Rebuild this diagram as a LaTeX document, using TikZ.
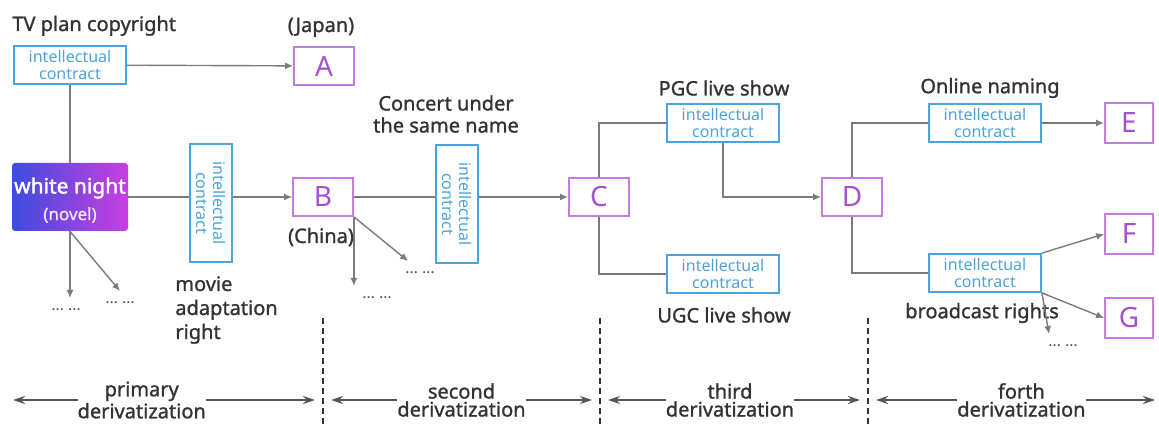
\documentclass[tikz,border=0pt]{standalone}
\usepackage{fontspec}
\setmainfont{Noto Sans}
\newfontfamily\midfont{Noto Sans}[FakeBold=1.2]
\newfontfamily\heavyfont{Noto Sans}[FakeBold=1.8]
\usepackage{xcolor}
\usetikzlibrary{arrows.meta,positioning}
\definecolor{ink}{HTML}{333333}
\definecolor{kblue}{HTML}{4BA3DA}
\definecolor{rpurple}{HTML}{C27BDE}
\definecolor{rletter}{HTML}{A451D1}
\definecolor{wiregray}{HTML}{7B7B7B}
\definecolor{spangray}{HTML}{555555}
\definecolor{nightL}{HTML}{3E4CDF}
\definecolor{nightR}{HTML}{C93FE0}

\begin{document}
\begin{tikzpicture}[x=0.5pt,y=-0.5pt,
    >={Latex[length=4pt,width=3.5pt]},
    wire/.style={draw=wiregray,line width=0.7pt},
    lbl/.style={text=ink,font=\midfont\fontsize{10}{11}\selectfont,align=center,inner sep=0pt},
    contract/.style={draw=kblue,line width=0.9pt,text=kblue,align=center,
      font=\fontsize{8}{8.5}\selectfont,minimum width=56pt,minimum height=19pt,inner sep=0pt},
    vcontract/.style={contract,rotate=-90,minimum width=59pt,minimum height=21pt},
    holder/.style={draw=rpurple,line width=0.9pt,text=rletter,
      font=\fontsize{14}{14}\selectfont,minimum width=30pt,minimum height=19pt,inner sep=0pt},
    narrow/.style={minimum width=24pt,minimum height=20pt},
    novel/.style={left color=nightL,right color=nightR,rounded corners=1.5pt,
      minimum width=58pt,minimum height=34pt,inner sep=0pt,text=white,align=center},
    dots/.style={text=spangray,font=\fontsize{8}{8}\selectfont,inner sep=0pt,inner ysep=5pt},
    span/.style={draw=spangray,line width=1pt,{Stealth[length=6pt,width=4pt]}-{Stealth[length=6pt,width=4pt]},
      shorten <=4pt,shorten >=4pt},
    spanlbl/.style={lbl,fill=white,font=\midfont\fontsize{10}{9}\selectfont},
    divider/.style={draw=ink,line width=0.6pt,dash pattern=on 3pt off 2pt}]
  \useasboundingbox (0,0) rectangle (1159,426);

  \path
  (12,31) node[lbl,anchor=base west] (tv) {TV plan copyright}
  (70,65) node[contract] (kTV) {intellectual\\contract}
  (321,32) node[lbl,anchor=base] (japan) {(Japan)}
  (324,66) node[holder] (A) {A}
  (70,197) node[novel] (wn) {}
  (70,188) node[text=white,font=\heavyfont\fontsize{10.5}{11}\selectfont,inner sep=0pt] (wnt) {white night}
  (70,215) node[text=white!85!nightR,font=\midfont\fontsize{8.5}{9}\selectfont,inner sep=0pt] (wnn) {(novel)}
  (211,203) node[vcontract] (k1) {intellectual\\contract}
  (323,197) node[holder] (B) {B}
  (321,243) node[lbl,anchor=base] (china) {(China)}
  (175,310) node[lbl,anchor=west,align=left,font=\midfont\fontsize{10}{12}\selectfont] (movie) {movie\\adaptation\\right}
  (446,114) node[lbl] (concert) {Concert under\\the same name}
  (457,204) node[vcontract] (k2) {intellectual\\contract}
  (599,197) node[holder] (C) {C}
  (724,88) node[lbl] (pgc) {PGC live show}
  (723,123) node[contract] (kPGC) {intellectual\\contract}
  (723,274) node[contract] (kUGC) {intellectual\\contract}
  (724,315) node[lbl] (ugc) {UGC live show}
  (852,197) node[holder] (D) {D}
  (990,88) node[lbl] (online) {Online naming}
  (985,123) node[contract] (kON) {intellectual\\contract}
  (1129,123) node[holder,narrow] (E) {E}
  (985,273) node[contract] (kBR) {intellectual\\contract}
  (982,313) node[lbl] (bcast) {broadcast rights}
  (1129,234) node[holder,narrow] (F) {F}
  (1129,318) node[holder,narrow] (G) {G}
  (66,298) node[dots,anchor=north] (d1) {… …}
  (120,291) node[dots,anchor=north] (d2) {… …}
  (377,286) node[dots,anchor=north] (d3) {… …}
  (420,261) node[dots,anchor=north] (d4) {… …}
  (1063,334) node[dots,anchor=north] (d5) {… …}
  ;

  \draw[wire] (kTV) -- (wn);
  \draw[wire,->] (kTV) -- (A);
  \draw[wire] (wn.east) -- (wn.east -| k1.south);
  \draw[wire,->] (wn.east -| k1.north) -- (B.west);
  \draw[wire,->] (wn.south) -- (wn.south |- d1.north);
  \draw[wire,->] (wn.south) -- (d2.north);
  \draw[wire,->] (B.south east) -- (B.south east |- d3.north);
  \draw[wire,->] (B.south east) -- ([xshift=-6pt]d4.north);
  \draw[wire] (B.east) -- (B.east -| k2.south);
  \draw[wire,->] (B.east -| k2.north) -- (C.west);
  \draw[wire] (C.north) |- (kPGC.west);
  \draw[wire] (C.south) |- (kUGC.west);
  \draw[wire,->] (kPGC.south) |- (D.west);
  \draw[wire] (D.north) |- (kON.west);
  \draw[wire] (D.south) |- (kBR.west);
  \draw[wire,->] (kON.east) -- (E.west);
  \draw[wire,->] (kBR.north east) -- (F.west);
  \draw[wire,->] (kBR.south east) -- (G.west);
  \draw[wire,->] (kBR.south east) -- ([xshift=-7pt]d5.north);

  \coordinate (e0) at (5,400);
  \coordinate (v1) at (323,400);
  \coordinate (v2) at (600,400);
  \coordinate (v3) at (868,400);
  \coordinate (e4) at (1163,400);
  \foreach \v in {v1,v2,v3}
    \draw[divider] ([yshift=41pt]\v) -- ([yshift=-13pt]\v);
  \draw[span] (e0) -- node[pos=.43,spanlbl] (p1) {primary\\derivatization} (v1);
  \draw[span] (v1) -- node[pos=.5,spanlbl] (p2) {second\\derivatization} (v2);
  \draw[span] (v2) -- node[pos=.485,spanlbl] (p3) {third\\derivatization} (v3);
  \draw[span] (v3) -- node[pos=.52,spanlbl] (p4) {forth\\derivatization} (e4);
\end{tikzpicture}
\end{document}
